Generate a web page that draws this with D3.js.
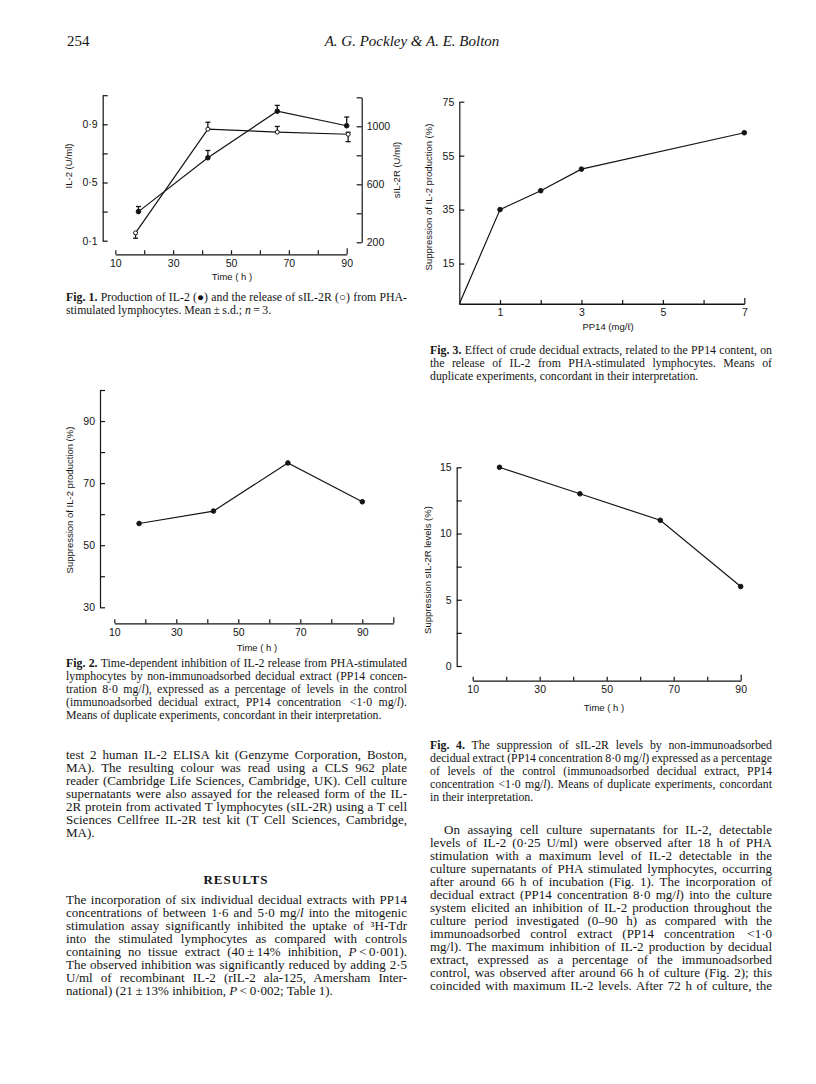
<!DOCTYPE html>
<html>
<head>
<meta charset="utf-8">
<script src="https://cdn.jsdelivr.net/npm/d3@7"></script>
<style>
  body { margin: 0; background: #fff; }
  svg text { fill: #141414; }
  .ax path, .ax line { stroke: #141414; stroke-width: 1.2; }
  .ax text { font-family: "Liberation Sans", Arial, sans-serif; font-size: 10.5px; fill: #141414; }
  .atitle { font-family: "Liberation Sans", Arial, sans-serif; font-size: 9.5px; }
  .body { font-family: "Liberation Serif", "Times New Roman", serif; font-size: 13px; }
  .cap { font-family: "Liberation Serif", "Times New Roman", serif; font-size: 11.8px; }
</style>
</head>
<body>
<div id="page"></div>
<script>
// ---- data ----
// Fig. 1
var il2Time = [18, 42, 66, 90];
var il2Level = [0.30, 0.67, 0.99, 0.89];
var il2ErrUp = [0.035, 0.05, 0.04, 0.06];
var sil2rTime = [17, 42, 66, 90.5];
var sil2rLevel = [265, 980, 960, 945];
var sil2rErrUp = [0, 48, 39, 14];
var sil2rErrDown = [37, 0, 0, 51];
// Fig. 2
var fig2Time = [18, 42, 66, 90];
var fig2Supp = [57, 61, 76.5, 64];
// Fig. 3
var fig3Dose = [0, 1, 2, 3, 7];
var fig3Supp = [0, 35, 42, 50, 63.5];
// Fig. 4
var fig4Time = [18, 42, 66, 90];
var fig4Supp = [15, 13, 11, 6];

// tick values / labels
var timeTicks = [10, 20, 30, 40, 50, 60, 70, 80, 90];
var timeLabels = [10, 30, 50, 70, 90];
var il2Ticks = [0.1, 0.3, 0.5, 0.7, 0.9, 1.1];
var il2Labels = [0.1, 0.5, 0.9];
var sil2rTicks = [200, 400, 600, 800, 1000, 1200];
var sil2rLabels = [200, 600, 1000];
var fig2YTicks = [30, 40, 50, 60, 70, 80, 90, 100];
var fig2YLabels = [30, 50, 70, 90];
var fig2XTicks = [10, 20, 30, 40, 50, 60, 70, 80, 90, 100];
var fig3YTicks = [15, 35, 55, 75];
var fig3XTicks = [1, 2, 3, 4, 5, 6, 7];
var fig3XLabels = [1, 3, 5, 7];
var fig4YTicks = [0, 2.5, 5, 7.5, 10, 12.5, 15];
var fig4YLabels = [0, 5, 10, 15];

var svg = d3.select("#page").append("svg")
  .attr("width", 816)
  .attr("height", 1084);

function dotFmt(f) {
  return function(d) { return d3.format(f)(d).replace(".", "\u00b7"); };
}

function pick(labels, f) {
  return function(d) { return labels.indexOf(d) >= 0 ? f(d) : ""; };
}

// vertical axis with ticks pointing into the plot
function vAxis(scale, x, ticks, labels, side, f) {
  var fmt = pick(labels, f || d3.format("d"));
  var ax = side == "left" ? d3.axisLeft(scale) : d3.axisRight(scale);
  ax.tickValues(ticks).tickFormat(fmt).tickSizeInner(-5).tickSizeOuter(0).tickPadding(5);
  return svg.append("g").attr("class", "ax")
    .attr("transform", `translate(${x},0)`)
    .call(ax);
}

// detached time axis with ticks standing up
function hAxis(scale, y, ticks, labels, f) {
  var ax = d3.axisBottom(scale)
    .tickValues(ticks)
    .tickFormat(pick(labels, f || d3.format("d")))
    .tickSizeInner(-4).tickSizeOuter(0).tickPadding(5);
  var g = svg.append("g").attr("class", "ax")
    .attr("transform", `translate(0,${y})`)
    .call(ax);
  var n = ticks.length;
  g.selectAll(".tick line").attr("y2", (d, i) => (i == n - 1 ? -6 : -4));
  return g;
}

function yTitle(txt, x, y) {
  svg.append("text").attr("class", "atitle")
    .attr("transform", `translate(${x},${y}) rotate(-90)`)
    .attr("text-anchor", "middle")
    .text(txt);
}

function xTitle(txt, x, y) {
  svg.append("text").attr("class", "atitle")
    .attr("x", x).attr("y", y)
    .attr("text-anchor", "middle")
    .text(txt);
}

function lineOf(xs, ys, x, y) {
  var pts = xs.map((d, i) => [x(d), y(ys[i])]);
  svg.append("path")
    .attr("d", d3.line()(pts))
    .attr("fill", "none")
    .attr("stroke", "#141414")
    .attr("stroke-width", 1.2);
}

function dots(xs, ys, x, y, open, skipFirst) {
  svg.append("g").selectAll("circle")
    .data(xs.map((d, i) => [d, ys[i]]).filter((d, i) => !(skipFirst && i == 0)))
    .enter().append("circle")
    .attr("cx", d => x(d[0]))
    .attr("cy", d => y(d[1]))
    .attr("r", open ? 2 : 2.3)
    .attr("fill", open ? "#fff" : "#141414")
    .attr("stroke", "#141414")
    .attr("stroke-width", 1);
}

function errBars(xs, ys, up, down, x, y) {
  var g = svg.append("g").attr("stroke", "#141414").attr("stroke-width", 1.3);
  xs.forEach(function(d, i) {
    var cx = x(d);
    var lo = y(ys[i] - down[i]), hi = y(ys[i] + up[i]);
    if (up[i] > 0) {
      g.append("line").attr("x1", cx).attr("x2", cx).attr("y1", y(ys[i])).attr("y2", hi);
      g.append("line").attr("x1", cx - 2.5).attr("x2", cx + 2.5).attr("y1", hi).attr("y2", hi);
    }
    if (down[i] > 0) {
      g.append("line").attr("x1", cx).attr("x2", cx).attr("y1", y(ys[i])).attr("y2", lo);
      g.append("line").attr("x1", cx - 2.5).attr("x2", cx + 2.5).attr("y1", lo).attr("y2", lo);
    }
  });
}

// ---- Fig. 1 ----
var x1 = d3.scaleLinear().domain([10, 90]).range([115.3, 346.7]);
var y1L = d3.scaleLinear().domain([0.1, 1.1]).range([240.7, 95.2]);
var y1R = d3.scaleLinear().domain([200, 1200]).range([242.3, 97.3]);
vAxis(y1L, 102.7, il2Ticks, il2Labels, "left", dotFmt(".1f"));
vAxis(y1R, 361.7, sil2rTicks, sil2rLabels, "right");
hAxis(x1, 254.3, timeTicks, timeLabels);
yTitle("IL-2 (U/ml)", 72, 166);
yTitle("sIL-2R (U/ml)", 400, 170);
xTitle("Time ( h )", 232, 280);
lineOf(il2Time, il2Level, x1, y1L);
lineOf(sil2rTime, sil2rLevel, x1, y1R);
errBars(il2Time, il2Level, il2ErrUp, [0, 0, 0, 0], x1, y1L);
errBars(sil2rTime, sil2rLevel, sil2rErrUp, sil2rErrDown, x1, y1R);
dots(il2Time, il2Level, x1, y1L, false);
dots(sil2rTime, sil2rLevel, x1, y1R, true);

// ---- Fig. 2 ----
var x2 = d3.scaleLinear().domain([10, 100]).range([114.3, 393.3]);
var y2 = d3.scaleLinear().domain([30, 100]).range([607.3, 390]);
vAxis(y2, 100, fig2YTicks, fig2YLabels, "left");
hAxis(x2, 623.3, fig2XTicks, timeLabels);
yTitle("Suppression of IL-2 production (%)", 73, 500);
xTitle("Time ( h )", 257, 651);
lineOf(fig2Time, fig2Supp, x2, y2);
dots(fig2Time, fig2Supp, x2, y2, false);

// ---- Fig. 3 ----
var x3 = d3.scaleLinear().domain([0, 7]).range([459.3, 744.3]);
var y3 = d3.scaleLinear().domain([0, 75]).range([304, 101.7]);
vAxis(y3, 459.3, fig3YTicks, fig3YTicks, "left");
hAxis(x3, 304, fig3XTicks, fig3XLabels);
svg.append("line").attr("x1", 459.3).attr("x2", 744.3).attr("y1", 304).attr("y2", 304)
  .attr("stroke", "#141414").attr("stroke-width", 1.2);
yTitle("Suppression of IL-2 production (%)", 432, 197);
xTitle("PP14 (mg/\u2113)", 608, 330);
lineOf(fig3Dose, fig3Supp, x3, y3);
dots(fig3Dose, fig3Supp, x3, y3, false, true);

// ---- Fig. 4 ----
var x4 = d3.scaleLinear().domain([10, 90]).range([472.7, 740.7]);
var y4 = d3.scaleLinear().domain([0, 15]).range([666, 467.3]);
vAxis(y4, 456.7, fig4YTicks, fig4YLabels, "left");
hAxis(x4, 680.7, timeTicks, timeLabels);
yTitle("Suppression sIL-2R levels (%)", 431, 570);
xTitle("Time ( h )", 604, 711);
lineOf(fig4Time, fig4Supp, x4, y4);
dots(fig4Time, fig4Supp, x4, y4, false);

// ---- running text ----
// *bold*  _italic_ ; lines are justified by widening (or tightening) the word gaps
function justify(t, width) {
  var natural = t.node().getComputedTextLength();
  var gaps = (t.text().match(/ /g) || []).length;
  var extra = width - natural;
  if (gaps > 0) t.style("word-spacing", (extra / gaps) + "px");
}

function block(lines, x, y0, width, lh, cls, indent, justifyLast) {
  lines.forEach(function(line, i) {
    var last = i == lines.length - 1;
    var ind = (i == 0 && indent) ? indent : 0;
    var t = svg.append("text").attr("class", cls)
      .attr("x", x + ind).attr("y", y0 + i * lh);
    line.split(/(\*[^*]+\*|_[^_]+_)/).forEach(function(seg) {
      if (!seg) return;
      var s = t.append("tspan");
      if (seg[0] == "*") s.attr("font-weight", "bold").text(seg.slice(1, -1));
      else if (seg[0] == "_") s.attr("font-style", "italic").text(seg.slice(1, -1));
      else s.text(seg);
    });
    if (!last || justifyLast) justify(t, width - ind);
  });
}

svg.append("text").attr("class", "body").attr("x", 67).attr("y", 46)
  .style("font-size", "15px").text("254");
svg.append("text").attr("class", "body").attr("x", 412).attr("y", 46)
  .attr("text-anchor", "middle").style("font-size", "15px").style("font-style", "italic")
  .text("A. G. Pockley & A. E. Bolton");

block(["*Fig. 1.* Production of IL-2 (\u25cf) and the release of sIL-2R (\u25cb) from PHA-",
  "stimulated lymphocytes. Mean\u2009\u00b1\u2009s.d.; _n_\u2009=\u20093."], 66, 301, 341, 13, "cap");

block(["*Fig. 3.* Effect of crude decidual extracts, related to the PP14 content, on",
  "the release of IL-2 from PHA-stimulated lymphocytes. Means of",
  "duplicate experiments, concordant in their interpretation."], 430, 354, 342, 13, "cap");

block(["*Fig. 2.* Time-dependent inhibition of IL-2 release from PHA-stimulated",
  "lymphocytes by non-immunoadsorbed decidual extract (PP14 concen-",
  "tration 8\u00b70 mg/_l_), expressed as a percentage of levels in the control",
  "(immunoadsorbed decidual extract, PP14 concentration \u2009<1\u00b70 mg/_l_).",
  "Means of duplicate experiments, concordant in their interpretation."], 66, 667, 341, 13, "cap");

block(["*Fig. 4.* The suppression of sIL-2R levels by non-immunoadsorbed",
  "decidual extract (PP14 concentration 8\u00b70 mg/_l_) expressed as a percentage",
  "of levels of the control (immunoadsorbed decidual extract, PP14",
  "concentration <1\u00b70 mg/_l_). Means of duplicate experiments, concordant",
  "in their interpretation."], 430, 749, 342, 13, "cap");

block(["test 2 human IL-2 ELISA kit (Genzyme Corporation, Boston,",
  "MA). The resulting colour was read using a CLS 962 plate",
  "reader (Cambridge Life Sciences, Cambridge, UK). Cell culture",
  "supernatants were also assayed for the released form of the IL-",
  "2R protein from activated T lymphocytes (sIL-2R) using a T cell",
  "Sciences Cellfree IL-2R test kit (T Cell Sciences, Cambridge,",
  "MA)."], 66, 759, 341, 13, "body");

svg.append("text").attr("class", "body").attr("x", 236).attr("y", 884)
  .attr("text-anchor", "middle").style("font-weight", "bold").style("letter-spacing", "1px")
  .text("RESULTS");

block(["The incorporation of six individual decidual extracts with PP14",
  "concentrations of between 1\u00b76 and 5\u00b70 mg/_l_ into the mitogenic",
  "stimulation assay significantly inhibited the uptake of \u00b3H-Tdr",
  "into the stimulated lymphocytes as compared with controls",
  "containing no tissue extract (40\u2009\u00b1\u200914% inhibition, _P_\u2009<\u20090\u00b7001).",
  "The observed inhibition was significantly reduced by adding 2\u00b75",
  "U/ml of recombinant IL-2 (rIL-2 ala-125, Amersham Inter-",
  "national) (21\u2009\u00b1\u200913% inhibition, _P_\u2009<\u20090\u00b7002; Table 1)."], 66, 904, 341, 13, "body");

// the last line of this column runs on to the next page, so it is justified too
block(["On assaying cell culture supernatants for IL-2, detectable",
  "levels of IL-2 (0\u00b725 U/ml) were observed after 18 h of PHA",
  "stimulation with a maximum level of IL-2 detectable in the",
  "culture supernatants of PHA stimulated lymphocytes, occurring",
  "after around 66 h of incubation (Fig. 1). The incorporation of",
  "decidual extract (PP14 concentration 8\u00b70 mg/_l_) into the culture",
  "system elicited an inhibition of IL-2 production throughout the",
  "culture period investigated (0\u201390 h) as compared with the",
  "immunoadsorbed control extract (PP14 concentration \u2009<1\u00b70",
  "mg/l). The maximum inhibition of IL-2 production by decidual",
  "extract, expressed as a percentage of the immunoadsorbed",
  "control, was observed after around 66 h of culture (Fig. 2); this",
  "coincided with maximum IL-2 levels. After 72 h of culture, the"], 430, 834, 342, 13, "body", 14, true);
</script>
</body>
</html>
